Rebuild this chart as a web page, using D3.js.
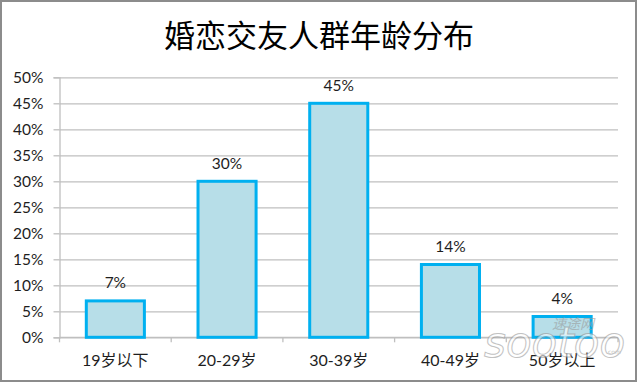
<!DOCTYPE html>
<html><head><meta charset="utf-8">
<script src="https://cdn.jsdelivr.net/npm/d3@7"></script>
<style>body{margin:0;background:#fff}svg{display:block}</style>
</head><body>
<script>
const title = "婚恋交友人群年龄分布";
const categories = ["19岁以下","20-29岁","30-39岁","40-49岁","50岁以上"];
const values = [0.07,0.30,0.45,0.14,0.04];
const yTicks = [0,0.05,0.10,0.15,0.20,0.25,0.30,0.35,0.40,0.45,0.50];

const W=638,H=383;
const svg=d3.select("body").append("svg").attr("width",W).attr("height",H);
const font="Lato, 'Noto Sans CJK SC', sans-serif";
const txt="#1e1e1e";
svg.append("rect").attr("x",1).attr("y",1).attr("width",635).attr("height",380)
  .attr("fill","#fff").attr("stroke","#8c8c8c").attr("stroke-width",2);

const L=59.5,R=618,T=77.3,B=337.3;
const x=d3.scaleBand().domain(categories).range([L,R]).paddingInner(0.48).paddingOuter(0.24);
const y=d3.scaleLinear().domain([0,0.5]).range([B,T]);
const fmt=d3.format(".0%");
const grid="#bfbfbf";

svg.append("text").attr("x",319).attr("y",47).attr("text-anchor","middle")
  .attr("font-family","'Noto Sans CJK SC', sans-serif").attr("font-size",31).attr("fill","#000").text(title);

// gridlines
const g=svg.append("g").attr("transform",`translate(${L},0)`)
  .call(d3.axisLeft(y).tickValues(yTicks).tickSize(-(R-L)).tickFormat(""));
g.select(".domain").remove();
g.selectAll("line").attr("stroke",grid).attr("stroke-width",1.3);

// y axis
const ya=svg.append("g").attr("transform",`translate(${L},0)`)
  .call(d3.axisLeft(y).tickValues(yTicks).tickSize(6).tickPadding(10).tickFormat(fmt));
ya.select(".domain").attr("stroke",grid).attr("stroke-width",1.3);
ya.selectAll("line").attr("stroke",grid).attr("stroke-width",1.3);
ya.selectAll("text").attr("font-family",font).attr("font-size",15.5).attr("fill",txt);

// x axis
svg.append("line").attr("x1",L).attr("x2",R).attr("y1",B).attr("y2",B).attr("stroke",grid).attr("stroke-width",1.3);
const step=x.step();
const bounds=d3.range(categories.length+1).map(i=>L+i*step);
svg.selectAll(".xt").data(bounds).join("line").attr("x1",d=>d).attr("x2",d=>d)
  .attr("y1",B).attr("y2",B+5).attr("stroke",grid).attr("stroke-width",1.3);
svg.selectAll(".xl").data(categories).join("text")
  .attr("x",d=>x(d)+x.bandwidth()/2).attr("y",366).attr("text-anchor","middle")
  .attr("font-family",font).attr("font-size",16).attr("fill",txt).text(d=>d);

// bars
svg.selectAll(".bar").data(values).join("rect")
  .attr("x",(d,i)=>x(categories[i])).attr("width",x.bandwidth())
  .attr("y",d=>y(d)).attr("height",d=>B-y(d))
  .attr("fill","#b7dee8").attr("stroke","#00b0f0").attr("stroke-width",3);
svg.selectAll(".lbl").data(values).join("text")
  .attr("x",(d,i)=>x(categories[i])+x.bandwidth()/2).attr("y",d=>y(d)-12.5)
  .attr("text-anchor","middle").attr("font-family",font).attr("font-size",15.5).attr("fill",txt)
  .text(d=>fmt(d));

// watermark
const wm=svg.append("g").attr("opacity",0.6);
wm.append("text").attr("x",552).attr("y",329).attr("font-family","'Noto Sans CJK SC', sans-serif")
  .attr("font-size",14).attr("font-style","italic").attr("fill","#9a9a9a").text("速途网");
wm.append("text").attr("x",484).attr("y",357).attr("font-family","'DejaVu Sans', sans-serif")
  .attr("font-size",42).attr("font-style","italic").attr("fill","#fff").attr("stroke","#999").attr("stroke-width",1).text("sootoo");
wm.append("text").attr("x",606).attr("y",354).attr("font-family","'DejaVu Sans', sans-serif")
  .attr("font-size",6).attr("fill","#999").text(".com");
</script>
</body></html>
